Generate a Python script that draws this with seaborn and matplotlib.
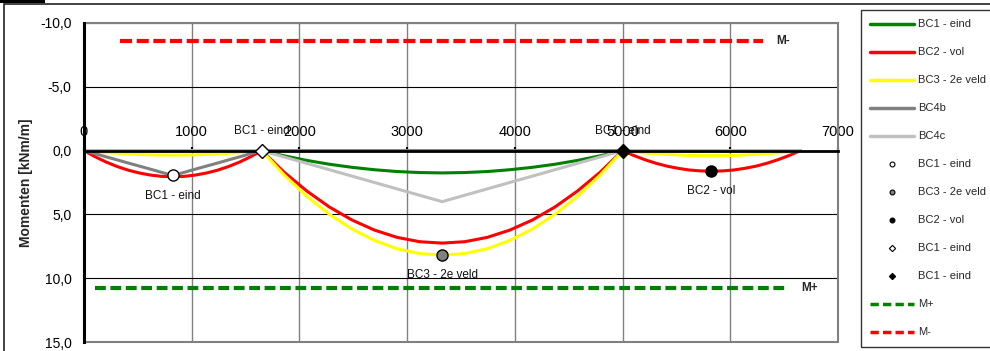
import pandas as pd
import matplotlib
matplotlib.use("Agg")
import matplotlib.pyplot as plt
from matplotlib.lines import Line2D
from matplotlib.patches import Rectangle
from matplotlib.ticker import FuncFormatter
import seaborn as sns

# === Moment lines per load case (x in mm, M in kNm/m) ===
span1_x = [0, 103, 206, 309, 413, 516, 619, 722, 825, 928, 1031, 1134, 1238, 1341, 1444, 1547, 1650]
span2_x = [1650, 1859, 2069, 2278, 2488, 2697, 2906, 3116, 3325, 3534, 3744, 3953, 4163, 4372, 4581, 4791, 5000]
span3_x = [5000, 5103, 5206, 5309, 5413, 5516, 5619, 5722, 5825, 5928, 6031, 6134, 6238, 6341, 6444, 6547, 6650]
zeros = [0] * 17

bc1_eind = (zeros
            + [0, 0.41, 0.77, 1.07, 1.31, 1.50, 1.64, 1.72, 1.75, 1.72, 1.64, 1.50, 1.31, 1.07, 0.77, 0.41, 0]
            + zeros)
bc2_vol = ([0, 0.48, 0.90, 1.25, 1.54, 1.76, 1.92, 2.02, 2.05, 2.02, 1.92, 1.76, 1.54, 1.25, 0.90, 0.48, 0]
           + [0, 1.70, 3.17, 4.42, 5.44, 6.23, 6.80, 7.14, 7.25, 7.14, 6.80, 6.23, 5.44, 4.42, 3.17, 1.70, 0]
           + [0, 0.38, 0.71, 0.99, 1.22, 1.39, 1.52, 1.59, 1.62, 1.59, 1.52, 1.39, 1.22, 0.99, 0.71, 0.38, 0])
bc3_2e_veld = ([0, 0.08, 0.15, 0.21, 0.26, 0.30, 0.33, 0.34, 0.35, 0.34, 0.33, 0.30, 0.26, 0.21, 0.15, 0.08, 0]
               + [0, 1.92, 3.59, 4.99, 6.15, 7.04, 7.69, 8.07, 8.20, 8.07, 7.69, 7.04, 6.15, 4.99, 3.59, 1.92, 0]
               + [0, 0.09, 0.18, 0.24, 0.30, 0.34, 0.38, 0.39, 0.40, 0.39, 0.38, 0.34, 0.30, 0.24, 0.18, 0.09, 0])
bc4b = ([0, 0.24, 0.49, 0.73, 0.98, 1.22, 1.46, 1.71, 1.95, 1.71, 1.46, 1.22, 0.98, 0.73, 0.49, 0.24, 0]
        + zeros + zeros)
bc4c = (zeros
        + [0, 0.5, 1.0, 1.5, 2.0, 2.5, 3.0, 3.5, 4.0, 3.5, 3.0, 2.5, 2.0, 1.5, 1.0, 0.5, 0]
        + zeros)

case_names = ["BC1 - eind", "BC2 - vol", "BC3 - 2e veld", "BC4b", "BC4c"]
case_values = [bc1_eind, bc2_vol, bc3_2e_veld, bc4b, bc4c]
case_colors = ["#008000", "#ff0000", "#ffff00", "#808080", "#c0c0c0"]

# === Governing points ===
pt_labels = ["BC1 - eind", "BC3 - 2e veld", "BC2 - vol", "BC1 - eind", "BC1 - eind"]
pt_x = [825, 3325, 5825, 1650, 5000]
pt_y = [1.95, 8.2, 1.62, 0.0, 0.0]
pt_marker = ["o", "o", "o", "D", "D"]
pt_face = ["white", "#808080", "black", "white", "black"]
pt_text_below = [True, True, True, False, False]

# === Capacity lines ===
m_plus_x = [100, 6540]
m_plus_y = [10.8, 10.8]
m_min_x = [330, 6300]
m_min_y = [-8.6, -8.6]

x_all = span1_x + span2_x + span3_x
rows = []
for name, vals in zip(case_names, case_values):
    for x, m in zip(x_all, vals):
        rows.append({"x": x, "M": m, "case": name})
df = pd.DataFrame(rows)

sns.set_style("white")
plt.rcParams["font.family"] = ["Liberation Sans", "DejaVu Sans"]

fig = plt.figure(figsize=(9.9, 3.51), dpi=100)
ax = fig.add_axes([84 / 990, 1 - 342 / 351, (838 - 84) / 990, (342 - 23) / 351])

sns.lineplot(data=df, x="x", y="M", hue="case", hue_order=case_names,
             palette=dict(zip(case_names, case_colors)), estimator=None,
             sort=False, lw=2.2, legend=False, ax=ax)

ax.plot(m_plus_x, m_plus_y, color="#008000", lw=3, dashes=(2.6, 1.1), zorder=3)
ax.plot(m_min_x, m_min_y, color="#ff0000", lw=3, dashes=(2.9, 1.1), zorder=3)
ax.text(6660, 10.8, "M+", fontsize=8.5, fontweight="bold", va="center")
ax.text(6430, -8.6, "M-", fontsize=8.5, fontweight="bold", va="center")

for lab, x, y, mk, fc, below in zip(pt_labels, pt_x, pt_y, pt_marker, pt_face, pt_text_below):
    ax.plot(x, y, marker=mk, ms=8 if mk == "o" else 7.5, mfc=fc, mec="black",
            mew=1, ls="none", zorder=5, clip_on=False)
    ax.annotate(lab, (x, y), xytext=(0, -14.5 if below else 14), textcoords="offset points",
                ha="center", va="center", fontsize=8.5, color="#111111", zorder=6)

# === Axes styling ===
ax.set_xlim(0, 7000)
ax.set_ylim(15, -10)
ax.set_xticks(range(0, 7001, 1000))
ax.set_yticks([-10, -5, 0, 5, 10, 15])
ax.yaxis.set_major_formatter(FuncFormatter(lambda v, p: f"{v:.1f}".replace(".", ",")))
ax.xaxis.tick_top()
ax.spines["top"].set_position(("data", 0))
ax.spines["top"].set_linewidth(2)
ax.spines["top"].set_color("black")
ax.spines["left"].set_linewidth(2.2)
ax.spines["left"].set_color("black")
ax.spines["bottom"].set_visible(False)
ax.spines["right"].set_visible(False)
ax.tick_params(axis="x", direction="out", length=3, width=1.5, pad=5, labelsize=10.5, colors="black")
ax.tick_params(axis="y", direction="out", length=4, width=1.5, pad=5, labelsize=10, colors="black")
ax.grid(axis="x", color="#808080", lw=1)
ax.grid(axis="y", color="black", lw=0.8)
ax.set_axisbelow(True)
ax.add_patch(Rectangle((0, 0), 1, 1, transform=ax.transAxes, fill=False,
                       ec="#808080", lw=1.5, clip_on=False, zorder=1.5))
ax.set_xlabel("")
ax.set_ylabel("Momenten [kNm/m]", fontsize=10, fontweight="bold")
ax.yaxis.set_label_coords(-0.068, 0.5)

# === Legend ===
handles = [Line2D([], [], color=c, lw=2.5) for c in case_colors]
for mk, fc in zip(pt_marker, pt_face):
    handles.append(Line2D([], [], marker=mk, ms=3.5 if mk == "o" else 3.2, mfc=fc,
                          mec="black", mew=0.8, ls="none"))
handles.append(Line2D([], [], color="#008000", lw=2.5, dashes=(2.4, 1.2)))
handles.append(Line2D([], [], color="#ff0000", lw=2.5, dashes=(2.4, 1.2)))
labels = case_names + pt_labels + ["M+", "M-"]
leg = fig.legend(handles, labels, loc="upper left", mode="expand",
                 bbox_to_anchor=(861 / 990, 0, 140 / 990, 1 - 10 / 351),
                 borderaxespad=0, fontsize=8, frameon=True, fancybox=False,
                 handlelength=3.9, handletextpad=0.35, labelspacing=1.62, borderpad=0.85)
leg.get_frame().set_edgecolor("black")
leg.get_frame().set_linewidth(1)

# === Outer chart border ===
fig.add_artist(Rectangle((4 / 990, -0.05), 990 / 990, 1.05 - 4 / 351,
                         transform=fig.transFigure, fill=False, ec="#222222", lw=1.2))
fig.add_artist(Rectangle((0, 1 - 3 / 351), 45 / 990, 3 / 351,
                         transform=fig.transFigure, fc="black", ec="none"))

fig.savefig("out.png", dpi=100)
